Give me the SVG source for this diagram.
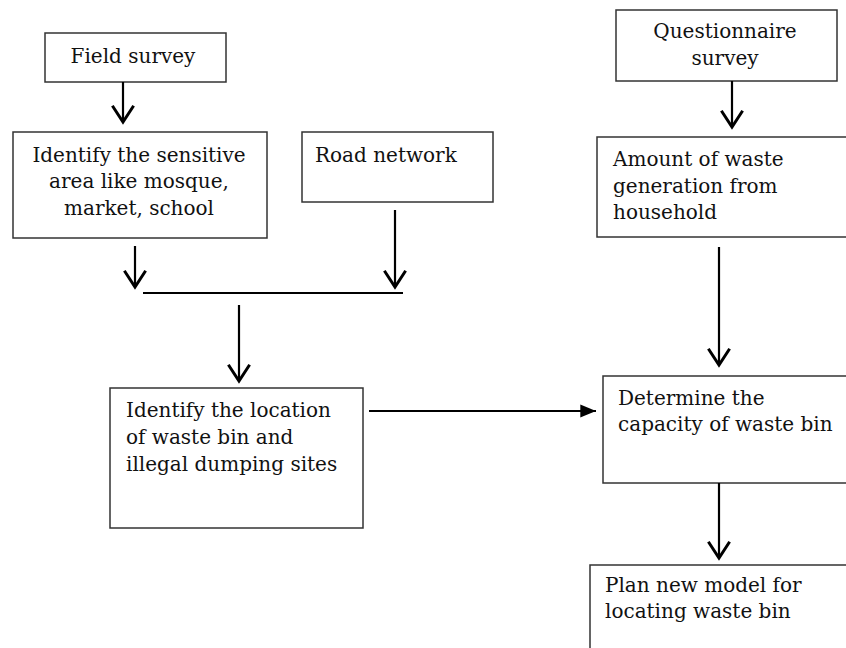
<svg xmlns="http://www.w3.org/2000/svg" width="846" height="648" viewBox="0 0 846 648">
  <style>
    .box { fill: #ffffff; stroke: #333333; stroke-width: 1.5; }
    .t { font-family: "DejaVu Serif", "Liberation Serif", serif; font-size: 20px; fill: #111111; }
    .c { text-anchor: middle; }
    .conn { stroke: #000000; stroke-width: 2.2; fill: none; }
  </style>
  <defs>
    <marker id="vhead" markerUnits="userSpaceOnUse" orient="auto" refX="0" refY="0" markerWidth="30" markerHeight="30" viewBox="-16 -12 20 24" overflow="visible">
      <path d="M -13 -8.5 L 0 0 L -13 8.5" fill="none" stroke="#000000" stroke-width="2.4"/>
    </marker>
    <marker id="fhead" markerUnits="userSpaceOnUse" orient="auto" refX="0" refY="0" markerWidth="20" markerHeight="20" viewBox="-12 -6 14 12" overflow="visible">
      <path d="M -11 -4.5 L 0 0 L -11 4.5 Z" fill="#000000"/>
    </marker>
  </defs>
  <rect width="846" height="648" fill="#ffffff"/>

  <g id="field-survey">
    <rect class="box" x="45" y="33" width="181" height="49"/>
    <text class="t c" x="133" y="63">Field survey</text>
  </g>

  <g id="sensitive-area">
    <rect class="box" x="13" y="132" width="254" height="106"/>
    <text class="t c" x="139" y="162">Identify the sensitive</text>
    <text class="t c" x="139" y="188">area like mosque,</text>
    <text class="t c" x="139" y="215">market, school</text>
  </g>

  <g id="road-network">
    <rect class="box" x="302" y="132" width="191" height="70"/>
    <text class="t" x="315" y="162">Road network</text>
  </g>

  <g id="questionnaire-survey">
    <rect class="box" x="616" y="10" width="221" height="71"/>
    <text class="t c" x="725" y="38">Questionnaire</text>
    <text class="t c" x="725" y="65">survey</text>
  </g>

  <g id="amount-waste">
    <rect class="box" x="597" y="137" width="270" height="100"/>
    <text class="t" x="613" y="166">Amount of waste</text>
    <text class="t" x="613" y="193">generation from</text>
    <text class="t" x="613" y="219">household</text>
  </g>

  <g id="identify-location">
    <rect class="box" x="110" y="388" width="253" height="140"/>
    <text class="t" x="126" y="417">Identify the location</text>
    <text class="t" x="126" y="444">of waste bin and</text>
    <text class="t" x="126" y="471">illegal  dumping sites</text>
  </g>

  <g id="determine-capacity">
    <rect class="box" x="603" y="376" width="264" height="107"/>
    <text class="t" x="618" y="405">Determine the</text>
    <text class="t" x="618" y="431">capacity of waste bin</text>
  </g>

  <g id="plan-model">
    <rect class="box" x="590" y="565" width="277" height="100"/>
    <text class="t" x="605" y="592">Plan new model for</text>
    <text class="t" x="605" y="618">locating waste bin</text>
  </g>

  <g id="connectors">
    <line class="conn" x1="123" y1="82" x2="123" y2="122" marker-end="url(#vhead)"/>
    <line class="conn" x1="732" y1="81" x2="732" y2="127" marker-end="url(#vhead)"/>
    <line class="conn" x1="135" y1="246" x2="135" y2="287" marker-end="url(#vhead)"/>
    <line class="conn" x1="395" y1="210" x2="395" y2="287" marker-end="url(#vhead)"/>
    <line class="conn" x1="143" y1="293" x2="403" y2="293"/>
    <line class="conn" x1="239" y1="305" x2="239" y2="381" marker-end="url(#vhead)"/>
    <line class="conn" x1="719" y1="247" x2="719" y2="365" marker-end="url(#vhead)"/>
    <line class="conn" x1="369" y1="411" x2="596" y2="411" marker-end="url(#fhead)"/>
    <line class="conn" x1="719" y1="483" x2="719" y2="558" marker-end="url(#vhead)"/>
  </g>
</svg>
